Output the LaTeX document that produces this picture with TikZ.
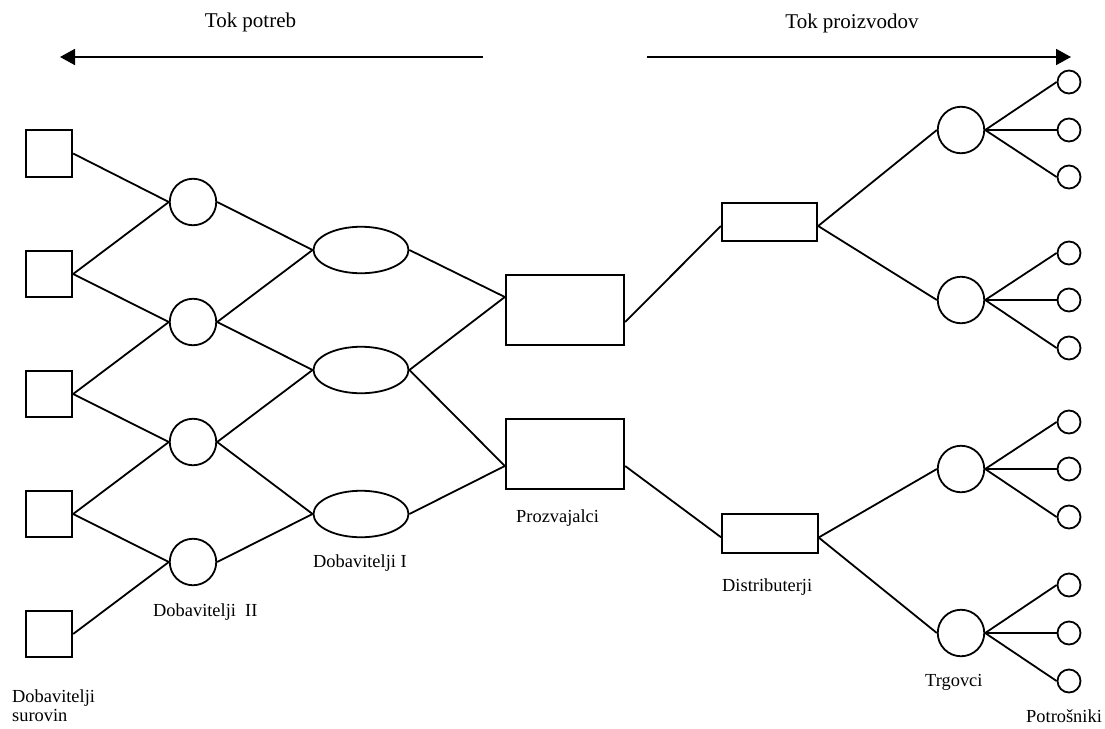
\documentclass[tikz,border=0pt]{standalone}
\usepackage{fontspec}
\setmainfont{Liberation Serif}
\usetikzlibrary{shapes.geometric,arrows.meta,calc}
\begin{document}
\begin{tikzpicture}[x=1pt,y=-1pt,
  lw/.style={line width=1.8pt},
  sq/.style={draw,lw,rectangle,minimum size=46.5pt,inner sep=0pt},
  circ/.style={draw,lw,circle,minimum size=46.5pt,inner sep=0pt},
  ell/.style={draw,lw,ellipse,minimum width=95pt,minimum height=46.5pt,inner sep=0pt},
  prod/.style={draw,lw,rectangle,minimum width=118.5pt,minimum height=70.5pt,inner sep=0pt},
  dist/.style={draw,lw,rectangle,minimum width=95.5pt,minimum height=38.5pt,inner sep=0pt},
  small/.style={draw,lw,circle,minimum size=23pt,inner sep=0pt},
  lbl/.style={inner sep=0pt,font=\fontsize{18.4}{19.5}\selectfont},
  tlbl/.style={inner sep=0pt,font=\fontsize{21}{25}\selectfont},
  flow/.style={lw,-{Triangle[length=15pt,width=16pt]}}
]
\useasboundingbox (0,0) rectangle (1105,728);

% top arrows
\node[tlbl] (tp) at (250.5,22) {Tok potreb};
\node[tlbl] (tpr) at (852,23) {Tok proizvodov};
\coordinate (a1s) at (483,57);
\coordinate (a1e) at (60,57);
\coordinate (a2s) at (647,57);
\coordinate (a2e) at (1071,57);
\draw[flow] (a1s) -- (a1e);
\draw[flow] (a2s) -- (a2e);

% raw material suppliers
\node[sq] (s1) at (49,153.5) {};
\node[sq] (s2) at (49,274) {};
\node[sq] (s3) at (49,394) {};
\node[sq] (s4) at (49,514) {};
\node[sq] (s5) at (49,634) {};

% suppliers II
\node[circ] (c1) at (193,202) {};
\node[circ] (c2) at (193,322) {};
\node[circ] (c3) at (193,442) {};
\node[circ] (c4) at (193,562) {};

% suppliers I
\node[ell] (e1) at (361,250) {};
\node[ell] (e2) at (361,370) {};
\node[ell] (e3) at (361,514) {};

% producers
\node[prod] (p1) at (565,310) {};
\node[prod] (p2) at (565,454) {};

% distributors
\node[dist] (d1) at (769.5,222) {};
\node[dist] (d2) at (770,533.5) {};

% retailers
\node[circ] (r1) at (961,130) {};
\node[circ] (r2) at (961,300) {};
\node[circ] (r3) at (961,469) {};
\node[circ] (r4) at (961,633) {};

% consumers
\node[small] (t11) at (1069,82) {};
\node[small] (t12) at (1069,130) {};
\node[small] (t13) at (1069,177) {};
\node[small] (t21) at (1069,253) {};
\node[small] (t22) at (1069,300) {};
\node[small] (t23) at (1069,348) {};
\node[small] (t31) at (1069,422) {};
\node[small] (t32) at (1069,469) {};
\node[small] (t33) at (1069,517) {};
\node[small] (t41) at (1069,585) {};
\node[small] (t42) at (1069,633) {};
\node[small] (t43) at (1069,681) {};

% connectors
\draw[lw] (s1.east) -- (c1.west);
\draw[lw] (s2.east) -- (c1.west);
\draw[lw] (s2.east) -- (c2.west);
\draw[lw] (s3.east) -- (c2.west);
\draw[lw] (s3.east) -- (c3.west);
\draw[lw] (s4.east) -- (c3.west);
\draw[lw] (s4.east) -- (c4.west);
\draw[lw] (s5.east) -- (c4.west);

\draw[lw] (c1.east) -- (e1.west);
\draw[lw] (c2.east) -- (e1.west);
\draw[lw] (c2.east) -- (e2.west);
\draw[lw] (c3.east) -- (e2.west);
\draw[lw] (c3.east) -- (e3.west);
\draw[lw] (c4.east) -- (e3.west);

\draw[lw] (e1.east) -- ([yshift=13pt]p1.west);
\draw[lw] (e2.east) -- ([yshift=13pt]p1.west);
\draw[lw] (e2.east) -- ([yshift=-12pt]p2.west);
\draw[lw] (e3.east) -- ([yshift=-12pt]p2.west);

\draw[lw] ([yshift=-12pt]p1.east) -- ([yshift=-4pt]d1.west);
\draw[lw] ([yshift=-12pt]p2.east) -- ([yshift=-4pt]d2.west);

\draw[lw] ([yshift=-4pt]d1.east) -- (r1.west);
\draw[lw] ([yshift=-4pt]d1.east) -- (r2.west);
\draw[lw] ([yshift=-4pt]d2.east) -- (r3.west);
\draw[lw] ([yshift=-4pt]d2.east) -- (r4.west);

\foreach \r/\a/\b/\c in {r1/t11/t12/t13,r2/t21/t22/t23,r3/t31/t32/t33,r4/t41/t42/t43}{
  \draw[lw] (\r.east) -- (\a.west);
  \draw[lw] (\r.east) -- (\b.west);
  \draw[lw] (\r.east) -- (\c.west);
}

% labels
\node[lbl,anchor=west,align=left] (ls) at (12,705.5) {Dobavitelji\\surovin};
\node[lbl,anchor=west] (l2) at (153,612) {Dobavitelji~~II};
\node[lbl,anchor=west] (l1) at (313,563) {Dobavitelji I};
\node[lbl,anchor=west] (lp) at (516,518) {Prozvajalci};
\node[lbl,anchor=west] (ld) at (722,587) {Distributerji};
\node[lbl,anchor=west] (lt) at (925,682) {Trgovci};
\node[lbl,anchor=west] (lc) at (1026,716) {Potrošniki};
\end{tikzpicture}
\end{document}
